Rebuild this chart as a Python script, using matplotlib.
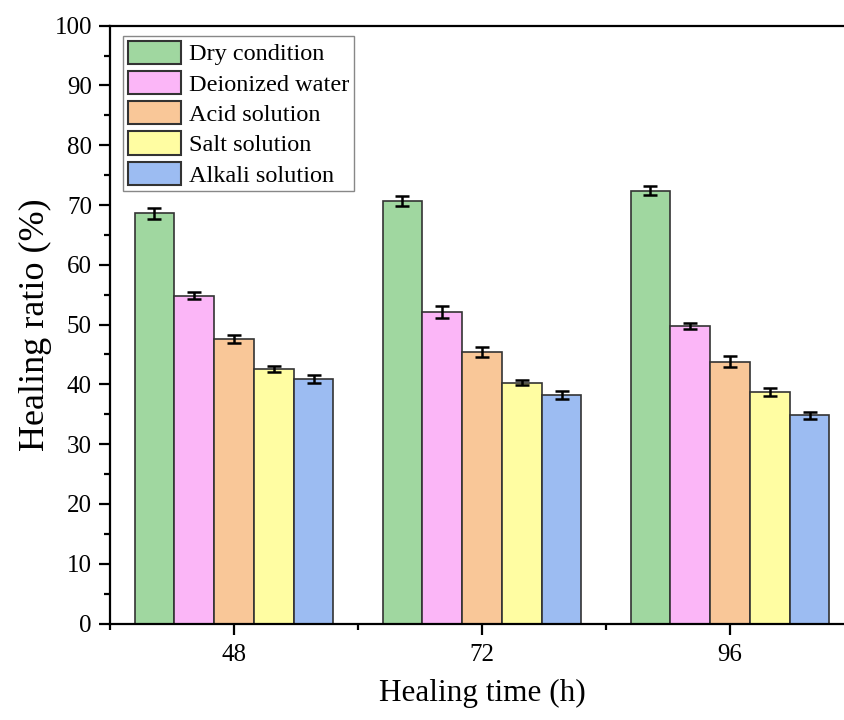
import matplotlib.pyplot as plt
import numpy as np

# healing time groups (h)
times = [48, 72, 96]
conditions = ["Dry condition", "Deionized water", "Acid solution",
              "Salt solution", "Alkali solution"]

# healing ratio (%) per condition, one value per healing time
dry = [68.6, 70.7, 72.4]
deionized = [54.8, 52.1, 49.7]
acid = [47.6, 45.4, 43.8]
salt = [42.6, 40.3, 38.7]
alkali = [40.9, 38.2, 34.8]

dry_err = [0.9, 0.8, 0.8]
deionized_err = [0.6, 0.95, 0.5]
acid_err = [0.7, 0.85, 0.95]
salt_err = [0.5, 0.4, 0.7]
alkali_err = [0.75, 0.65, 0.55]

values = [dry, deionized, acid, salt, alkali]
errors = [dry_err, deionized_err, acid_err, salt_err, alkali_err]
colors = ["#A0D7A0", "#FBB6F7", "#F9C798", "#FFFDA2", "#9CBCF2"]

plt.rcParams["font.family"] = ["Liberation Serif", "DejaVu Serif"]

fig = plt.figure(figsize=(8.45, 7.2), dpi=100)
ax = fig.add_axes([110 / 845, 1 - 623.5 / 720, 744 / 845, (623.5 - 25.7) / 720])

width = 3.85
x = np.array(times, dtype=float)
for i, (vals, errs, color, label) in enumerate(zip(values, errors, colors, conditions)):
    ax.bar(x + (i - 2) * width, vals, width, color=color, edgecolor="#333333",
           linewidth=1.2, label=label, zorder=2)
    ax.errorbar(x + (i - 2) * width, vals, yerr=errs, fmt="none", ecolor="black",
                elinewidth=1.8, capsize=4.7, capthick=1.8, zorder=3)

ax.set_xlim(36, 108)
ax.set_ylim(0, 100)
ax.set_xticks(times)
ax.set_xticks([36, 60, 84, 108], minor=True)
ax.set_yticks(np.arange(0, 101, 10))
ax.set_yticks(np.arange(5, 100, 10), minor=True)

for side in ["left", "bottom", "top", "right"]:
    ax.spines[side].set_linewidth(1.6)
ax.tick_params(which="major", direction="out", length=8, width=1.6, labelsize=18)
ax.tick_params(which="minor", direction="out", length=4, width=1.6)
ax.tick_params(axis="x", which="major", pad=7)
ax.tick_params(axis="y", which="major", pad=5)

ax.set_xlabel("Healing time (h)", fontsize=22.5, labelpad=9)
ax.set_ylabel("Healing ratio (%)", fontsize=26, labelpad=2)

leg = ax.legend(loc="upper left", bbox_to_anchor=(13 / 744, 1 - 10 / 598),
                borderaxespad=0, fontsize=17.5, handlelength=2.2, handleheight=1.1,
                labelspacing=0.22, handletextpad=0.3, borderpad=0.2,
                fancybox=False, framealpha=1, edgecolor="#888888")
leg.get_frame().set_linewidth(1.0)
for patch in leg.get_patches():
    patch.set_linewidth(1.5)

fig.savefig("out.png", dpi=100)
